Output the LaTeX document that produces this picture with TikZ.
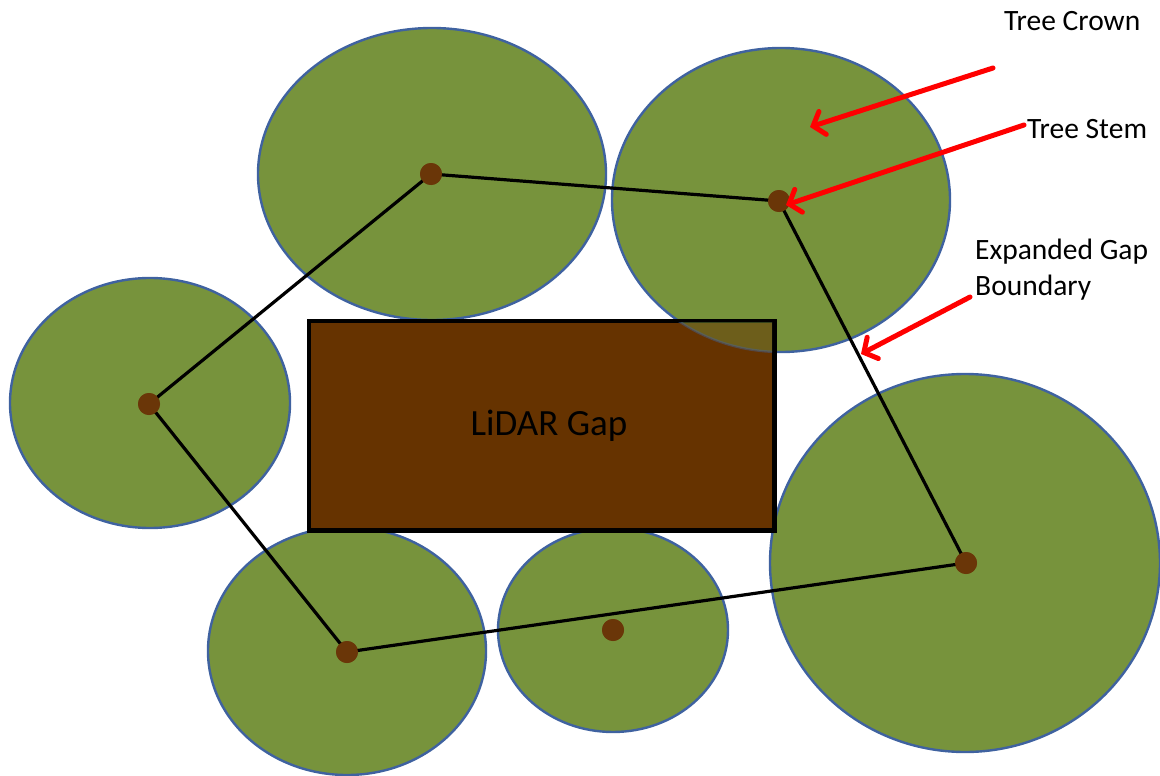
\documentclass[tikz,border=0pt]{standalone}
\usepackage{fontspec}
\setmainfont{Carlito}
\usetikzlibrary{arrows.meta}
\definecolor{crowngreen}{HTML}{77933C}
\definecolor{crownedge}{HTML}{3F62A0}
\definecolor{gapbrown}{HTML}{663300}
\definecolor{stembrown}{HTML}{6A3608}
\tikzset{
  crown/.style={fill=crowngreen, draw=crownedge, line width=2.4pt},
  stem/.style={circle, fill=stembrown, minimum size=22pt, inner sep=0pt},
  link/.style={black, line width=3.2pt},
  pointer/.style={red, line width=5pt, line cap=round,
    -{Straight Barb[length=10pt, width=24pt, line cap=round]}},
  label/.style={anchor=base west, inner sep=0pt, font=\fontsize{29.5}{36}\selectfont},
}
\begin{document}
\begin{tikzpicture}[x=1pt, y=-1pt]
\useasboundingbox (0,0) rectangle (1160,776);

% tree crowns
\draw[crown] (432,174) ellipse [x radius=174, y radius=146];
\draw[crown] (781,200) ellipse [x radius=169, y radius=152];
\draw[crown] (150,403) ellipse [x radius=140, y radius=125];
\draw[crown] (347,651) ellipse [x radius=139, y radius=124];
\draw[crown] (613,630) ellipse [x radius=115, y radius=102];
\draw[crown] (965,563) ellipse [x radius=195, y radius=189];

% the LiDAR gap
\node[draw=black, line width=3pt, fill=gapbrown, minimum width=464pt, minimum height=208pt,
      inner sep=0pt, anchor=north west] (gap) at (308,320) {};
\node[font=\fontsize{37}{44}\selectfont] (gaplabel) at (549,426) {LiDAR Gap};

% crown showing through the gap where they overlap
\begin{scope}
  \clip (308,320) rectangle (772,528);
  \draw[crown, opacity=0.45] (781,200) ellipse [x radius=169, y radius=152];
\end{scope}
\draw[black, line width=3pt] (gap.north west) rectangle (gap.south east);

% stems
\node[stem] (s1) at (431,174) {};
\node[stem] (s2) at (779,201) {};
\node[stem] (s3) at (966,563) {};
\node[stem] (s4) at (347,652) {};
\node[stem] (s5) at (149,404) {};
\node[stem] (s6) at (613,630) {};

% expanded gap boundary
\draw[link] (s1.center) -- (s2.center) -- (s3.center) -- (s4.center) -- (s5.center) -- cycle;
\foreach \s in {s1,s2,s3,s4,s5,s6} \node[stem] at (\s) {};

% annotations
\node[label] (crownlabel) at (1004,31) {Tree Crown};
\node[label] (stemlabel) at (1027,138) {Tree Stem};
\node[label] (boundlabel) at (975,259) {Expanded Gap};
\node[label] (boundlabel2) at (975,295) {Boundary};

\coordinate (c0) at (993,68);
\coordinate (c1) at (810,127);
\coordinate (t0) at (1024,125);
\coordinate (t1) at (786,205);
\coordinate (b0) at (970,297);
\coordinate (b1) at (861,354);
\draw[pointer] (c0) -- (c1);
\draw[pointer] (t0) -- (t1);
\draw[pointer] (b0) -- (b1);
\end{tikzpicture}
\end{document}
